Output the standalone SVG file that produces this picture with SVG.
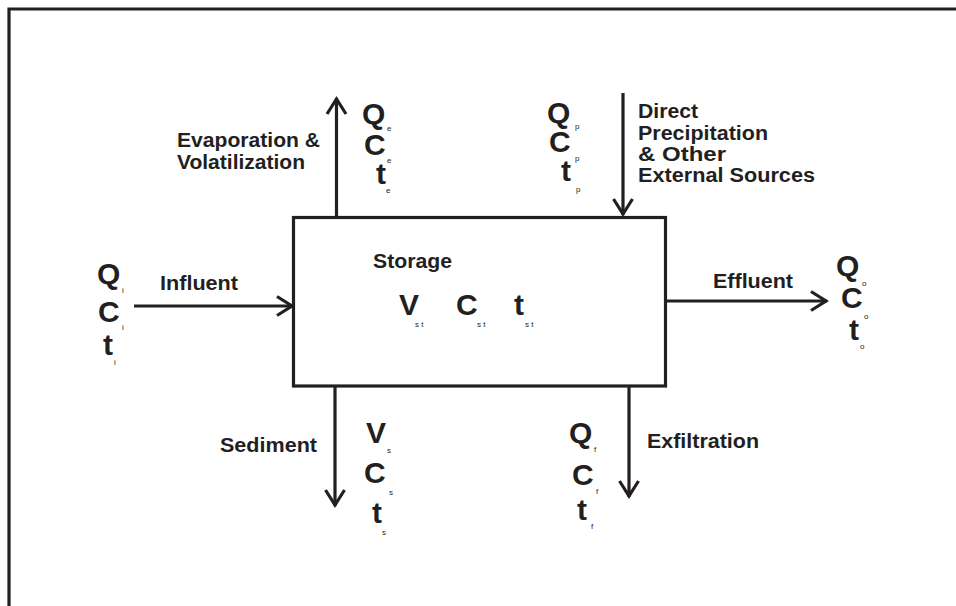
<svg xmlns="http://www.w3.org/2000/svg" width="956" height="606" viewBox="0 0 956 606">
<defs>
<style>
.ln{fill:none;stroke:#231f20;stroke-width:3.2}
.lbl{font-family:"Liberation Sans",Arial,sans-serif;font-weight:bold;font-size:20px;fill:#231f20}
.big{font-family:"Liberation Sans",Arial,sans-serif;font-weight:bold;font-size:30px;fill:#231f20}
.sub{font-family:"Liberation Sans",Arial,sans-serif;font-size:8px;fill:#231f20}
</style>
<marker id="ah" markerUnits="userSpaceOnUse" markerWidth="40" markerHeight="40" viewBox="-20 -20 40 40" refX="0" refY="0" orient="auto" overflow="visible">
<path d="M-16,-9.5 L-1,0 L-16,9.5" fill="none" stroke="#231f20" stroke-width="3.2"/>
</marker>
</defs>
<rect width="956" height="606" fill="#ffffff"/>
<g id="frame">
<path class="ln" d="M9,606 V9 H956" stroke-width="3.5"/>
</g>
<g id="storage">
<rect class="ln" x="293.5" y="217.5" width="372" height="168.5" stroke-width="3.5"/>
<text class="lbl" x="373" y="268" textLength="79" lengthAdjust="spacingAndGlyphs">Storage</text>
<text class="big" x="399" y="315">V</text><text class="sub" x="415" y="327">s t</text>
<text class="big" x="456" y="315">C</text><text class="sub" x="477" y="327">s t</text>
<text class="big" x="514" y="315">t</text><text class="sub" x="525" y="327">s t</text>
</g>
<g id="connectors">
<path class="ln" d="M134,306 H293" marker-end="url(#ah)"/>
<path class="ln" d="M336.5,217 V98" marker-end="url(#ah)"/>
<path class="ln" d="M623,93 V215" marker-end="url(#ah)"/>
<path class="ln" d="M666,301 H827" marker-end="url(#ah)"/>
<path class="ln" d="M335,387 V506" marker-end="url(#ah)"/>
<path class="ln" d="M629,387 V497" marker-end="url(#ah)"/>
</g>
<g id="influent">
<text class="lbl" x="160" y="290" textLength="78" lengthAdjust="spacingAndGlyphs">Influent</text>
<text class="big" x="97" y="284">Q</text><text class="sub" x="122" y="293">i</text>
<text class="big" x="98" y="322">C</text><text class="sub" x="122" y="330">i</text>
<text class="big" x="103" y="355">t</text><text class="sub" x="114" y="365">i</text>
</g>
<g id="evaporation">
<text class="lbl" x="177" y="147" textLength="143" lengthAdjust="spacingAndGlyphs">Evaporation &amp;</text>
<text class="lbl" x="177" y="169" textLength="128" lengthAdjust="spacingAndGlyphs">Volatilization</text>
<text class="big" x="362" y="124">Q</text><text class="sub" x="387" y="131">e</text>
<text class="big" x="364" y="155">C</text><text class="sub" x="387" y="163">e</text>
<text class="big" x="376" y="184">t</text><text class="sub" x="386" y="193">e</text>
</g>
<g id="precipitation">
<text class="lbl" x="638" y="118" textLength="60" lengthAdjust="spacingAndGlyphs">Direct</text>
<text class="lbl" x="638" y="140" textLength="130" lengthAdjust="spacingAndGlyphs">Precipitation</text>
<text class="lbl" x="638" y="161" textLength="88" lengthAdjust="spacingAndGlyphs">&amp; Other</text>
<text class="lbl" x="638" y="182" textLength="177" lengthAdjust="spacingAndGlyphs">External Sources</text>
<text class="big" x="547" y="123">Q</text><text class="sub" x="575" y="129">p</text>
<text class="big" x="549" y="152">C</text><text class="sub" x="575" y="161">p</text>
<text class="big" x="561" y="181">t</text><text class="sub" x="576" y="192">p</text>
</g>
<g id="effluent">
<text class="lbl" x="713" y="288" textLength="80" lengthAdjust="spacingAndGlyphs">Effluent</text>
<text class="big" x="836" y="276">Q</text><text class="sub" x="862" y="286">o</text>
<text class="big" x="841" y="308">C</text><text class="sub" x="864" y="319">o</text>
<text class="big" x="849" y="340">t</text><text class="sub" x="860" y="349">o</text>
</g>
<g id="sediment">
<text class="lbl" x="220" y="452" textLength="97" lengthAdjust="spacingAndGlyphs">Sediment</text>
<text class="big" x="366" y="443">V</text><text class="sub" x="387" y="453">s</text>
<text class="big" x="364" y="483">C</text><text class="sub" x="389" y="495">s</text>
<text class="big" x="372" y="523">t</text><text class="sub" x="382" y="535">s</text>
</g>
<g id="exfiltration">
<text class="lbl" x="647" y="448" textLength="112" lengthAdjust="spacingAndGlyphs">Exfiltration</text>
<text class="big" x="569" y="443">Q</text><text class="sub" x="594" y="452">f</text>
<text class="big" x="572" y="485">C</text><text class="sub" x="596" y="494">f</text>
<text class="big" x="577" y="520">t</text><text class="sub" x="591" y="529">f</text>
</g>
</svg>
